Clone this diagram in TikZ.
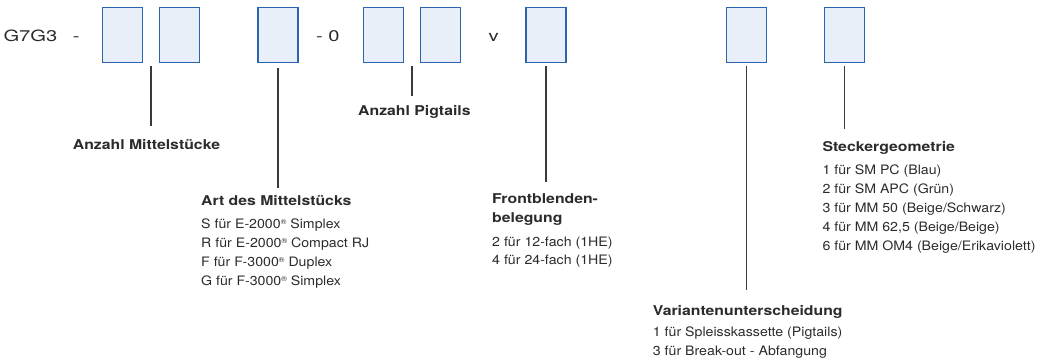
\documentclass[tikz,border=0pt]{standalone}
\usepackage{fontspec}
\setmainfont{TeX Gyre Heros}
\newfontfamily\bodyfont{TeX Gyre Heros}[FakeStretch=1.09]
\newfontfamily\headfont{TeX Gyre Heros}[FakeStretch=1.17]
\newfontfamily\codefont{TeX Gyre Heros}[FakeStretch=1.3]
\usetikzlibrary{calc}
\definecolor{boxfill}{HTML}{E8EFF9}
\definecolor{boxdraw}{HTML}{2B64B0}
\definecolor{txt}{HTML}{2B2B2B}
\definecolor{ln}{HTML}{3A3A3A}
\newcommand{\reg}{\raisebox{0.55ex}{\fontsize{7}{7}\selectfont ®}}
\begin{document}
\begin{tikzpicture}[x=1pt,y=-1pt,
  codebox/.style={draw=boxdraw, fill=boxfill, line width=1.3pt, minimum width=40pt, minimum height=55pt, inner sep=0pt},
  lbl/.style={anchor=base west, inner sep=0pt, text=txt, font=\bodyfont\fontsize{13}{19}\selectfont},
  head/.style={anchor=base west, inner sep=0pt, text=txt, font=\headfont\fontsize{13.5}{19}\selectfont\bfseries},
  codetxt/.style={anchor=base west, inner sep=0pt, text=txt, font=\codefont\fontsize{15.5}{18}\selectfont},
  conn/.style={draw=ln, line width=1.3pt}]
\useasboundingbox (0,0) rectangle (1040,363);

% code line
\node[codetxt] (g7) at (3.3,41.7) {G7G3};
\node[codetxt] (d1) at (72.7,41.7) {-};
\node[codetxt] (d0) at (316,41.7) {- 0};
\node[codetxt] (vv) at (488.3,41.7) {v};

\node[codebox] (b1) at (122.2,35.3) {};
\node[codebox] (b2) at (179.7,35.3) {};
\node[codebox] (b3) at (278,35.3) {};
\node[codebox] (b4) at (383.2,35.3) {};
\node[codebox] (b5) at (440.8,35.3) {};
\node[codebox] (b6) at (546,35.3) {};
\node[codebox] (b7) at (746.2,35.3) {};
\node[codebox] (b8) at (844.5,35.3) {};

% connector ends
\coordinate (m12a) at (151,66);   \coordinate (m12b) at (151,126);
\coordinate (l3a) at (278,68);    \coordinate (l3b) at (278,188);
\coordinate (m45a) at (412,66);   \coordinate (m45b) at (412,96);
\coordinate (l6a) at (546,66);    \coordinate (l6b) at (546,182);
\coordinate (l7a) at (746.2,66);  \coordinate (l7b) at (746.2,290);
\coordinate (l8a) at (844.5,66);  \coordinate (l8b) at (844.5,129);

\draw[conn] (m12a) -- (m12b);
\draw[conn] (l3a) -- (l3b);
\draw[conn] (m45a) -- (m45b);
\draw[conn] (l6a) -- (l6b);
\draw[conn] (l7a) -- (l7b);
\draw[conn] (l8a) -- (l8b);

% labels
\node[head] (hmit) at (72.7,150) {Anzahl Mittelstücke};
\node[head] (hpig) at (358,116) {Anzahl Pigtails};

\node[head] (hart) at (201,206) {Art des Mittelstücks};
\node[lbl] (a1) at (201,228.3) {S für E-2000\reg{} Simplex};
\node[lbl] (a2) at (201,247.3) {R für E-2000\reg{} Compact RJ};
\node[lbl] (a3) at (201,266.3) {F für F-3000\reg{} Duplex};
\node[lbl] (a4) at (201,285.3) {G für F-3000\reg{} Simplex};

\node[head] (hfr1) at (492,204) {Frontblenden-};
\node[head] (hfr2) at (492,222.7) {belegung};
\node[lbl] (f1) at (492,246) {2 für 12-fach (1HE)};
\node[lbl] (f2) at (492,264.3) {4 für 24-fach (1HE)};

\node[head] (hst) at (822.3,151.7) {Steckergeometrie};
\node[lbl] (s1) at (822.3,174.3) {1 für SM PC (Blau)};
\node[lbl] (s2) at (822.3,193.3) {2 für SM APC (Grün)};
\node[lbl] (s3) at (822.3,212.5) {3 für MM 50 (Beige/Schwarz)};
\node[lbl] (s4) at (822.3,231.6) {4 für MM 62,5 (Beige/Beige)};
\node[lbl] (s5) at (822.3,250.7) {6 für MM OM4 (Beige/Erikaviolett)};

\node[head] (hva) at (652.7,315) {Variantenunterscheidung};
\node[lbl] (v1) at (652.7,336.7) {1 für Spleisskassette (Pigtails)};
\node[lbl] (v2) at (652.7,355) {3 für Break-out - Abfangung};
\end{tikzpicture}
\end{document}
